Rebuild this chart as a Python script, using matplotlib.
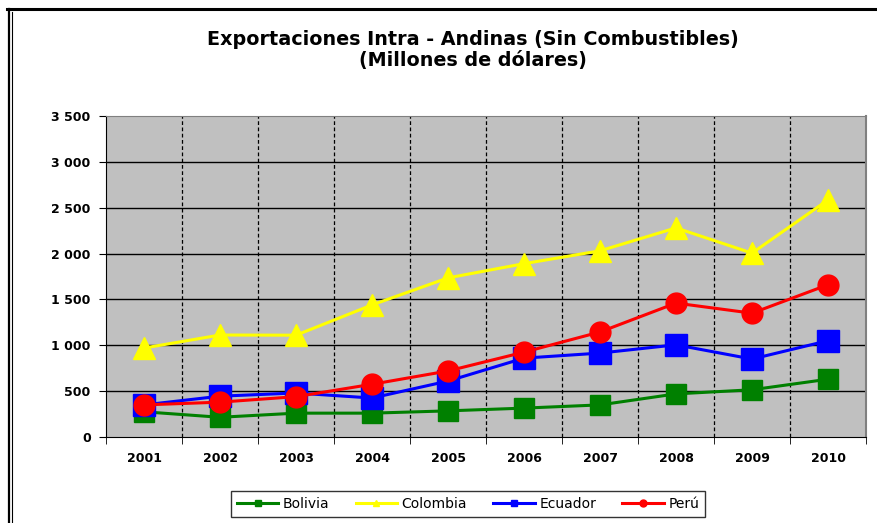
import matplotlib.pyplot as plt
from matplotlib.lines import Line2D
from matplotlib.ticker import FuncFormatter, FixedLocator

plt.rcParams['font.family'] = ['DejaVu Sans']

# datos ------------------------------------------------------------
anios = ["2001", "2002", "2003", "2004", "2005", "2006", "2007", "2008", "2009", "2010"]
bolivia = [275, 215, 260, 260, 285, 315, 350, 470, 515, 630]
colombia = [970, 1112, 1110, 1440, 1735, 1890, 2030, 2280, 2005, 2585]
ecuador = [350, 445, 480, 425, 610, 860, 915, 1005, 850, 1050]
peru = [350, 380, 440, 575, 720, 925, 1145, 1460, 1350, 1660]

W, H = 877, 523
fig = plt.figure(figsize=(W / 100, H / 100), dpi=100)

# marco exterior (linea superior y doble linea izquierda)
fig.add_artist(Line2D([7 / W, 1], [1 - 9 / H, 1 - 9 / H], color="black", lw=2.2, transform=fig.transFigure))
fig.add_artist(Line2D([8.5 / W, 8.5 / W], [1 - 9 / H, 0], color="black", lw=1.6, transform=fig.transFigure))
fig.add_artist(Line2D([11.5 / W, 11.5 / W], [1 - 12 / H, 0], color="black", lw=0.8, transform=fig.transFigure))

ax = fig.add_axes([106 / W, 1 - 437 / H, 760 / W, 321 / H])
ax.set_facecolor("#C0C0C0")

x = list(range(len(anios)))
ax.plot(x, bolivia, color="#008000", lw=2.2, marker="s", ms=15, zorder=3)
ax.plot(x, colombia, color="#FFFF00", lw=2.2, marker="^", ms=16, zorder=3)
ax.plot(x, ecuador, color="#0000FF", lw=2.2, marker="s", ms=16, zorder=4)
ax.plot(x, peru, color="#FF0000", lw=2.2, marker="o", ms=15, zorder=5)

ax.set_xlim(-0.5, len(anios) - 0.5)
ax.set_ylim(0, 3500)
ax.set_yticks(range(0, 3501, 500))
ax.yaxis.set_major_formatter(FuncFormatter(lambda v, p: f"{int(v):,}".replace(",", " ")))
ax.set_xticks(x)
ax.set_xticklabels(anios, fontweight="bold", fontsize=9)
for t in ax.get_yticklabels():
    t.set_fontweight("bold")
    t.set_fontsize(9)
ax.tick_params(axis="x", length=0, pad=11)
ax.tick_params(axis="y", direction="out", length=5, pad=6)

# lineas de division
ax.xaxis.set_minor_locator(FixedLocator([i - 0.5 for i in range(len(anios) + 1)]))
ax.tick_params(axis="x", which="minor", direction="out", length=5)
for i in range(1, len(anios)):
    ax.axvline(i - 0.5, color="black", lw=0.9, ls=(0, (3, 2)), zorder=1)
for v in range(500, 3500, 500):
    ax.axhline(v, color="black", lw=1, zorder=1)

ax.spines["top"].set_color("#808080")
ax.spines["right"].set_color("#808080")
ax.spines["right"].set_linewidth(1.5)

fig.text(473 / W, 1 - 50 / H, "Exportaciones Intra - Andinas (Sin Combustibles)\n(Millones de dólares)",
         ha="center", va="center", fontsize=13.8, fontweight="bold", linespacing=1.15)

# leyenda
handles = [
    Line2D([], [], color="#008000", lw=2.2, marker="s", ms=5),
    Line2D([], [], color="#FFFF00", lw=2.2, marker="^", ms=5),
    Line2D([], [], color="#0000FF", lw=2.2, marker="s", ms=5),
    Line2D([], [], color="#FF0000", lw=2.2, marker="o", ms=5),
]
leg = fig.legend(handles, ["Bolivia", "Colombia", "Ecuador", "Perú"], ncol=4,
                 loc="center", bbox_to_anchor=(468 / W, 1 - 504 / H), fontsize=10,
                 frameon=True, fancybox=False, edgecolor="black", handlelength=3.0,
                 handletextpad=0.3, columnspacing=1.9, borderpad=0.45, borderaxespad=0)
leg.get_frame().set_linewidth(1)

fig.savefig("out.png", dpi=100)
